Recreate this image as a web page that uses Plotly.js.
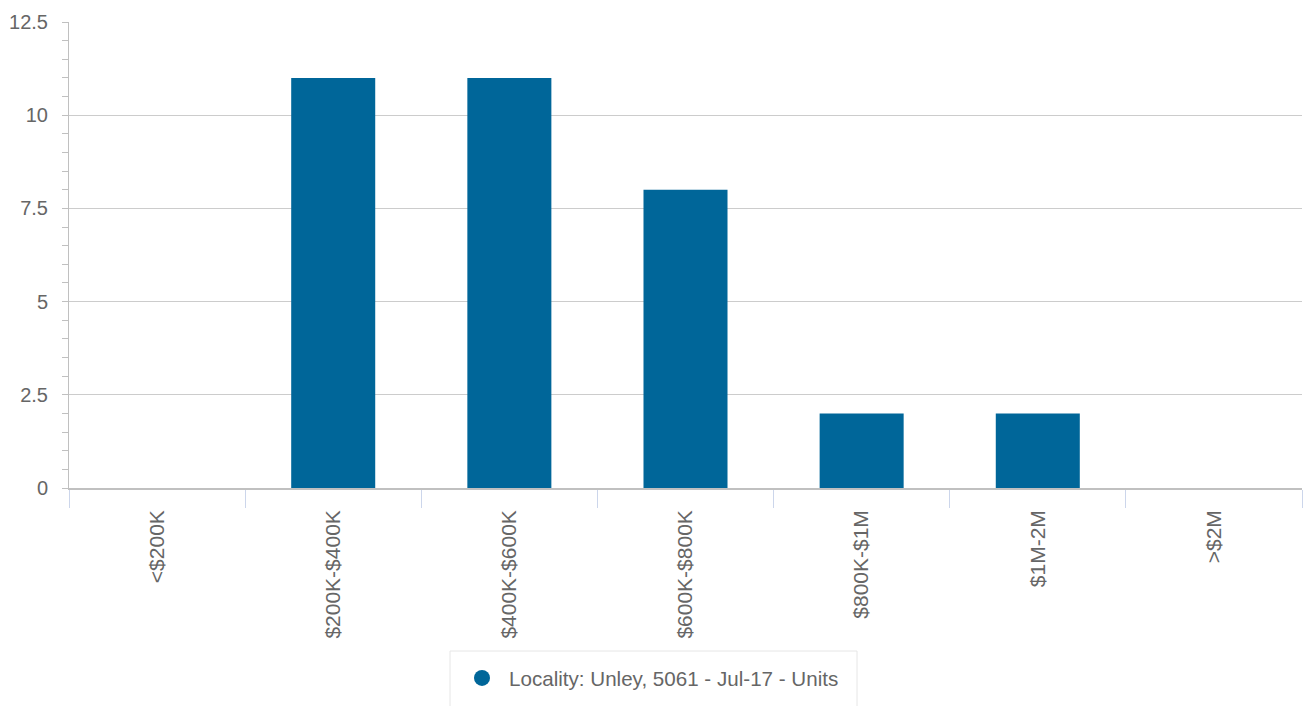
<!DOCTYPE html>
<html>
<head>
<meta charset="utf-8">
<script src="https://cdn.plot.ly/plotly-3.0.1.min.js"></script>
<style>
  html, body { margin: 0; padding: 0; background: #ffffff; }
  #chart { width: 1303px; height: 706px; }
</style>
</head>
<body>
<div id="chart"></div>
<script>
const categories = ["<$200K", "$200K-$400K", "$400K-$600K", "$600K-$800K", "$800K-$1M", "$1M-2M", ">$2M"];
const values = [0, 11, 11, 8, 2, 2, 0];
const seriesName = "Locality: Unley, 5061 - Jul-17 - Units";
const yTickValues = [0, 2.5, 5, 7.5, 10, 12.5];

const barColor = "#006699";
const textColor = "#666666";
const fontFamily = "'Liberation Sans', Arial, sans-serif";

const traces = [
  {
    type: "bar",
    x: categories,
    y: values,
    marker: { color: barColor },
    showlegend: false,
    hoverinfo: "x+y"
  },
  {
    type: "scatter",
    mode: "markers",
    x: [null],
    y: [null],
    name: seriesName,
    marker: { color: barColor, size: 18, symbol: "circle" },
    showlegend: true
  }
];

const layout = {
  width: 1303,
  height: 706,
  margin: { l: 69, r: 1, t: 22, b: 218, pad: 0 },
  paper_bgcolor: "#ffffff",
  plot_bgcolor: "#ffffff",
  font: { family: fontFamily, size: 20, color: textColor },
  bargap: 0.523,
  xaxis: {
    type: "category",
    categoryorder: "array",
    categoryarray: categories,
    tickangle: -90,
    ticks: "outside",
    tickson: "boundaries",
    ticklen: 18,
    tickwidth: 1,
    tickcolor: "#ccd6eb",
    showline: true,
    linecolor: "#c0c0c0",
    linewidth: 1.5,
    showgrid: false,
    zeroline: false,
    ticklabelstandoff: 12,
    tickfont: { family: fontFamily, size: 21, color: textColor },
    fixedrange: true
  },
  yaxis: {
    range: [0, 12.5],
    tickvals: yTickValues,
    ticks: "outside",
    ticklen: 6,
    tickwidth: 1,
    tickcolor: "#c0c0c0",
    showline: true,
    linecolor: "#c0c0c0",
    linewidth: 1,
    showgrid: true,
    gridcolor: "#cccccc",
    gridwidth: 1,
    zeroline: false,
    ticklabelstandoff: 10,
    minor: { dtick: 0.5, ticks: "outside", ticklen: 6, tickwidth: 1, tickcolor: "#c0c0c0", showgrid: false },
    tickfont: { family: fontFamily, size: 20, color: textColor },
    fixedrange: true
  },
  showlegend: true,
  legend: {
    orientation: "h",
    xref: "container",
    yref: "container",
    x: 455 / 1303,
    xanchor: "left",
    y: (706 - 678) / 706,
    yanchor: "middle",
    bgcolor: "rgba(0,0,0,0)",
    borderwidth: 0,
    itemwidth: 44,
    font: { family: fontFamily, size: 20.6, color: textColor }
  },
  shapes: [
    {
      type: "rect",
      xref: "paper",
      yref: "paper",
      x0: (450 - 69) / 1233,
      x1: (857 - 69) / 1233,
      y0: -(651 - 488) / 466,
      y1: -(730 - 488) / 466,
      line: { color: "#e6e6e6", width: 1 },
      fillcolor: "rgba(0,0,0,0)",
      layer: "below"
    }
  ]
};

Plotly.newPlot("chart", traces, layout, { displayModeBar: false, staticPlot: false });
</script>
</body>
</html>
